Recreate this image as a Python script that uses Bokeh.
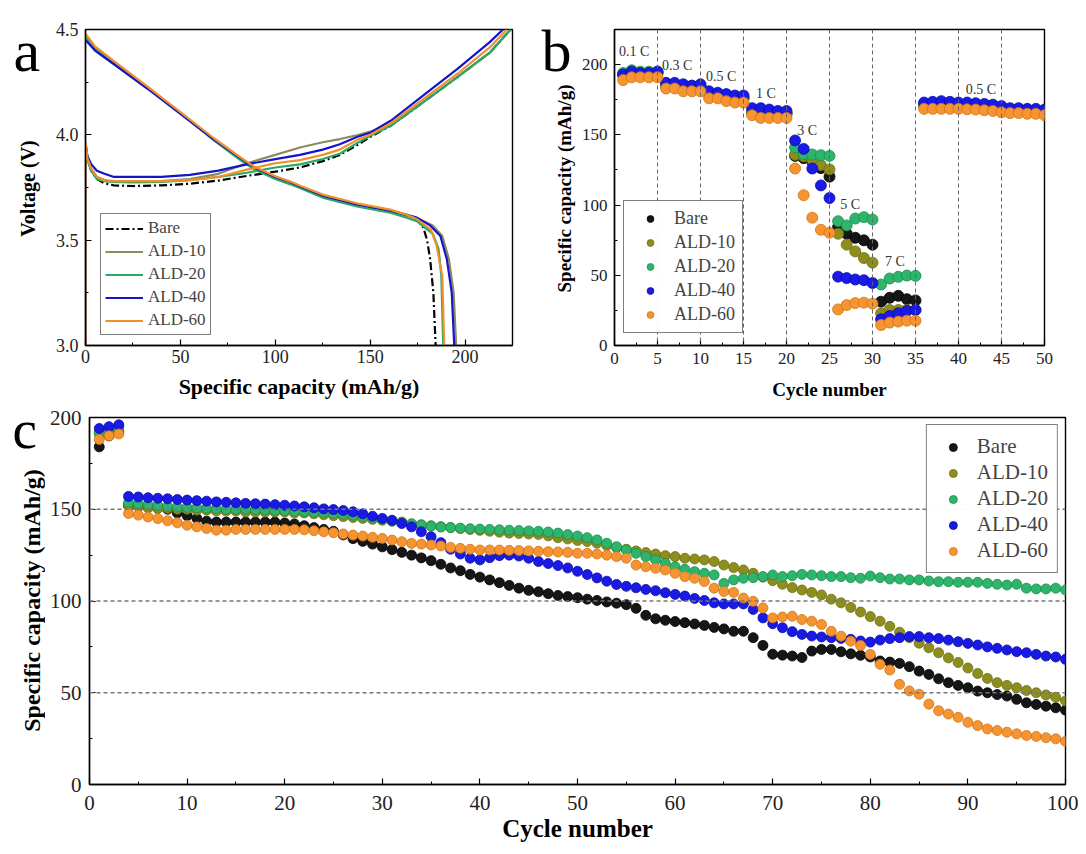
from bokeh.plotting import figure
from bokeh.layouts import column, row
from bokeh.models import (Range1d, FixedTicker, Span, Label, Legend, LegendItem,
                          NumeralTickFormatter)
from bokeh.embed import file_html
from bokeh.resources import INLINE

SERIF = "Liberation Serif"

# ---------------- Panel a : charge / discharge profiles ----------------
a_series = ["Bare", "ALD-10", "ALD-20", "ALD-40", "ALD-60"]

bare_chg_x = [0, 0, 1, 3, 6, 10, 15, 25, 40, 55, 70, 85, 100, 113, 125, 134, 143, 150, 161, 178, 196, 213, 224]
bare_chg_v = [3.00, 3.96, 3.89, 3.83, 3.79, 3.77, 3.76, 3.757, 3.76, 3.768, 3.783, 3.805, 3.825, 3.845, 3.875, 3.905, 3.95, 3.99, 4.044, 4.155, 4.274, 4.39, 4.50]
ald10_chg_x = [0, 0, 1, 3, 6, 10, 15, 25, 40, 55, 70, 85, 100, 113, 125, 134, 143, 150, 161, 178, 196, 213, 224]
ald10_chg_v = [3.00, 3.96, 3.89, 3.84, 3.80, 3.785, 3.776, 3.776, 3.78, 3.79, 3.815, 3.865, 3.905, 3.94, 3.965, 3.98, 3.998, 4.015, 4.05, 4.155, 4.275, 4.39, 4.50]
ald20_chg_x = [0, 0, 1, 3, 6, 10, 15, 25, 40, 55, 70, 85, 100, 113, 125, 134, 143, 150, 161, 178, 196, 213, 224]
ald20_chg_v = [3.00, 3.96, 3.88, 3.83, 3.79, 3.78, 3.776, 3.774, 3.776, 3.785, 3.80, 3.82, 3.845, 3.86, 3.885, 3.91, 3.96, 3.995, 4.044, 4.155, 4.274, 4.39, 4.50]
ald40_chg_x = [0, 0, 1, 3, 6, 10, 15, 25, 40, 55, 70, 85, 100, 113, 125, 134, 143, 150, 161, 178, 196, 213, 220]
ald40_chg_v = [3.00, 3.96, 3.90, 3.86, 3.83, 3.815, 3.80, 3.80, 3.80, 3.81, 3.83, 3.86, 3.885, 3.905, 3.93, 3.955, 3.99, 4.01, 4.068, 4.187, 4.313, 4.44, 4.50]
ald60_chg_x = [0, 0, 1, 3, 6, 10, 15, 25, 40, 55, 70, 85, 100, 113, 125, 134, 143, 150, 161, 178, 196, 213, 222]
ald60_chg_v = [3.00, 3.97, 3.89, 3.84, 3.80, 3.785, 3.78, 3.78, 3.78, 3.785, 3.80, 3.835, 3.865, 3.88, 3.905, 3.93, 3.975, 4.00, 4.055, 4.17, 4.29, 4.415, 4.50]

bare_dis_x = [0, 5, 15, 32.5, 50, 67.5, 81.6, 88.6, 100, 108, 113, 125.5, 143, 160.6, 169.3, 174.6, 178, 180, 181.6, 183.3, 184.5]
bare_dis_v = [4.47, 4.41, 4.345, 4.226, 4.104, 3.98, 3.89, 3.847, 3.80, 3.775, 3.755, 3.71, 3.67, 3.64, 3.617, 3.60, 3.56, 3.50, 3.41, 3.25, 3.00]
ald10_dis_x = [0, 5, 15, 32.5, 50, 67.5, 81.6, 88.6, 100, 108, 113, 125.5, 143, 160.6, 169.3, 174.6, 183, 188, 191.5, 194, 195.3]
ald10_dis_v = [4.47, 4.41, 4.345, 4.226, 4.104, 3.98, 3.89, 3.847, 3.80, 3.775, 3.755, 3.71, 3.67, 3.64, 3.62, 3.605, 3.57, 3.52, 3.41, 3.25, 3.00]
ald20_dis_x = [0, 5, 15, 32.5, 50, 67.5, 81.6, 88.6, 100, 108, 113, 125.5, 143, 160.6, 169.3, 174.6, 183, 186, 187.5, 188.5]
ald20_dis_v = [4.47, 4.41, 4.345, 4.226, 4.104, 3.975, 3.88, 3.837, 3.79, 3.765, 3.748, 3.70, 3.66, 3.63, 3.607, 3.59, 3.53, 3.46, 3.33, 3.00]
ald40_dis_x = [0, 5, 15, 32.5, 50, 67.5, 81.6, 88.6, 100, 108, 113, 125.5, 143, 160.6, 169.3, 174.6, 181.6, 187, 190.4, 193, 194.3]
ald40_dis_v = [4.45, 4.40, 4.335, 4.22, 4.10, 3.978, 3.89, 3.847, 3.80, 3.775, 3.755, 3.71, 3.67, 3.64, 3.62, 3.607, 3.57, 3.52, 3.41, 3.25, 3.00]
ald60_dis_x = [0, 5, 15, 32.5, 50, 67.5, 81.6, 88.6, 100, 108, 113, 125.5, 143, 160.6, 169.3, 174.6, 182, 185, 188, 189]
ald60_dis_v = [4.48, 4.42, 4.35, 4.23, 4.108, 3.985, 3.893, 3.85, 3.803, 3.778, 3.758, 3.715, 3.675, 3.645, 3.62, 3.60, 3.55, 3.475, 3.33, 3.00]

a_line_colors = ["#000000", "#8b8b60", "#2aa866", "#1414c8", "#f0902a"]
a_line_dash = ["8 3 2 3", "solid", "solid", "solid", "solid"]

# ---------------- Panel b : rate capability ----------------
b_cycles = list(range(1, 51))
b_bare = [193, 194, 194, 194, 194, 185, 185, 184, 184, 184, 179, 178, 177, 176, 176,
          166, 165, 165, 165, 165, 135, 133.4, 130.8, 126.3, 120.2, 84.3, 79.6, 76.7, 74.9, 71.8,
          31.2, 34, 35.4, 33, 32.1, 171, 171, 171, 171, 171, 170, 170, 170, 169, 168, 167, 167, 167, 166, 166]
b_ald10 = [193, 194, 194, 194, 194, 185, 185, 184, 184, 184, 179, 178, 177, 176, 176,
           166, 165, 165, 165, 165, 135.8, 134.6, 132, 128.5, 125.4, 79.6, 71.8, 67, 62.3, 59,
           22.9, 25.3, 25.3, 25.3, 25.3, 171, 171, 171, 171, 171, 170, 170, 170, 169, 168, 167, 167, 167, 166, 166]
b_ald20 = [194, 196, 195, 195, 195, 186, 186, 185, 185, 185, 180, 179, 178, 177, 177,
           167, 166, 166, 166, 166, 141, 136.2, 136, 135.5, 135, 88.5, 85.5, 90.4, 91.4, 89.7,
           43.4, 47.7, 48.9, 49.8, 49.6, 172, 172, 172, 172, 172, 171, 171, 171, 170, 169, 168, 168, 168, 167, 167]
b_ald40 = [193, 195, 194, 194, 195, 187, 187, 186, 185, 186, 181, 180, 179, 178, 178,
           169, 169, 168, 167, 167, 146, 140, 126, 114, 105, 49, 48, 47, 46.5, 44.5,
           18.7, 21, 23, 24.6, 25.3, 173, 173.5, 174, 173.5, 173, 173, 172.5, 172, 171.5, 170.5, 169, 169, 168.5, 168.5, 168]
b_ald60 = [189, 191, 191, 191, 191, 183, 183, 181, 181, 181, 176, 176, 174, 173, 173,
           164, 162, 162, 162, 162, 126, 107, 91, 82.4, 80.3, 25.7, 28.8, 30.2, 30.5, 29.8,
           14.6, 16.3, 17, 17.7, 17.7, 168.5, 168.5, 168.5, 168.5, 168.5, 168.2, 168, 167.5, 167, 166, 165.5, 165.5, 165, 165, 164]
b_rate_labels = ["0.1 C", "0.3 C", "0.5 C", "1 C", "3 C", "5 C", "7 C", "0.5 C"]
b_rate_x = [2.3, 7.3, 12.4, 17.6, 22.4, 27.4, 32.6, 42.6]
b_rate_y = [209, 199.5, 191.5, 179.7, 153, 100.6, 59.5, 182.5]
b_step_lines = [5, 10, 15, 20, 25, 30, 35, 40, 45]

# ---------------- Panel c : cycling ----------------
c_cycles = list(range(1, 101))
c_bare = [184, 190, 192, 152, 151.5, 151, 150.5, 150, 148, 146.5, 145, 143.5, 143, 143, 143, 143, 143, 143, 143, 142.5,
          142, 141, 140, 139, 138, 136, 134, 132.5, 131, 129.5, 128, 126.5, 125, 123.5, 122, 120, 118, 116.5, 114.5, 113,
          111.5, 110, 108.5, 107, 105.8, 105, 104, 103, 102.4, 101.8, 101, 100.3, 99.5, 98.8, 98, 96, 92.2, 90.3, 89.5, 88.8,
          88.2, 87.5, 86.7, 85.6, 84.8, 83.5, 83.5, 80, 75.8, 71, 70.5, 70, 69.2, 72.7, 73.6, 73.6, 72.3, 71.2, 70.4, 69.5,
          67.3, 66.7, 66, 64.2, 61.8, 60, 57.6, 55.5, 54, 52.7, 50.9, 50, 49, 48.2, 46.4, 44.5, 43.6, 42.7, 41.8, 40.5]
c_ald10 = [191, 193, 193, 152, 151.5, 151, 150.5, 150.5, 150, 150, 149.5, 149.5, 149, 149, 149, 148.5, 148.5, 148.5, 148.5, 148.5,
           148, 148, 147.5, 147, 146.5, 146, 145.5, 145, 144.5, 144, 143.5, 143, 142, 141.5, 141, 140.5, 140, 139.5, 139, 138.5,
           138, 137.5, 137, 136.8, 136.5, 136.3, 135.5, 134.5, 133.8, 133, 132.4, 131.5, 130.2, 129.1, 128.2, 127.3, 126.4, 125.6, 124.7, 124.2,
           123.3, 122.9, 122.4, 121.5, 119.6, 118.2, 116.9, 115.1, 113, 111.1, 109.1, 107.3, 106, 104.7, 103.3, 101, 99, 96.5, 94, 91.5,
           89, 86.2, 83, 80, 77, 74.5, 71.8, 69, 66.5, 63.5, 60.5, 57.8, 55.5, 54, 52.7, 51.2, 50, 48.8, 47.5, 45.5]
c_ald20 = [192, 194, 195, 153.5, 153, 152.5, 152, 151.5, 151.2, 151, 150.8, 150.5, 150.3, 150, 150, 150, 149.8, 149.6, 149.5, 149.3,
           149, 148.8, 148.5, 148.2, 147.8, 147.3, 146.7, 146, 145.2, 144.5, 143.6, 142.8, 142, 141.4, 140.8, 140.3, 140, 139.7, 139.4, 139.2,
           139, 138.8, 138.6, 138.4, 138.2, 138, 137.6, 137, 136.2, 135.4, 134.5, 133.3, 131.5, 129.6, 127.8, 126, 124.2, 122.4, 120.5, 118.7,
           117.3, 116, 115.1, 114.2, 109.6, 111.5, 112.4, 112.7, 113.3, 114.2, 113.3, 113.8, 114.5, 114.2, 113.8, 113.3, 113.3, 112.7, 112.4, 113.6,
           112.7, 112, 112, 111.5, 111.5, 110.9, 110.5, 110.5, 110.2, 110.2, 110.2, 109.6, 109.1, 108.7, 109.1, 107, 106.6, 106.6, 107, 106]
c_ald40 = [194, 195, 196, 157, 156.7, 156.3, 156, 155.7, 155.3, 155, 154.7, 154.4, 154, 153.8, 153.5, 153.2, 153, 152.8, 152.5, 152.2,
           151.8, 151.3, 150.8, 150.2, 149.8, 149.3, 148.6, 147.5, 146.2, 145, 144, 142.2, 140.4, 137.7, 135, 131.8, 128.2, 125.6, 123.3, 122.4,
           123.6, 124.7, 125, 124.5, 123.3, 121.5, 120.4, 119.3, 118, 116.2, 114.4, 112.6, 110.8, 109, 108, 107.2, 106.3, 105.6, 104.5, 103.6,
           102.7, 101.4, 100.3, 99, 98.4, 98.4, 98.4, 95.4, 90.8, 87.6, 85.4, 83.3, 81.8, 80.9, 80.4, 80, 79.6, 79.1, 78.2, 77.6,
           78.7, 79.5, 80, 80.6, 80.6, 80, 79.5, 78.7, 77.8, 76.9, 76, 75, 74.2, 73.3, 72.4, 71.8, 70.9, 70, 69.5, 68.2]
c_ald60 = [188, 190, 191, 147.7, 146.8, 145.8, 144.9, 143.7, 142.6, 141.3, 140.4, 139.5, 138.6, 138.6, 139, 139, 139, 139, 139, 139,
           139, 138.8, 138.3, 137.7, 137.2, 136.5, 135.9, 135.4, 134.7, 134.1, 133.2, 132.3, 131.4, 131, 130.5, 130, 129.2, 128.7, 128.2, 127.8,
           127.8, 127.8, 127.6, 127.5, 127.3, 127.1, 126.9, 126.7, 126.5, 126, 126, 125.6, 125, 124.2, 123.3, 119.6, 118.7, 117.8, 116.9, 115.1,
           113.3, 112.4, 110.6, 107, 105.2, 104.7, 101.6, 99.8, 96.2, 90.8, 91.3, 91.7, 89.9, 89, 87.2, 83.5, 80.8, 78.1, 75.8, 70.9,
           65.5, 62.4, 54.6, 51, 49.2, 43.8, 40.2, 38.4, 36.6, 33.9, 32.1, 30.3, 29.4, 28.5, 27.6, 26.7, 26.2, 25.5, 24.9, 23.5]
c_ref_levels = [50, 100, 150]

dot_fill = ["#161616", "#8e8e1e", "#2db56c", "#1a1ae6", "#f59430"]
dot_line = ["#000000", "#6e6e10", "#1a8c50", "#0c0ca8", "#d07418"]


def style(p, tick_px, label_px, xt, xm, yt, ym):
    p.xgrid.visible = False
    p.ygrid.visible = False
    p.outline_line_color = "black"
    p.outline_line_width = 1.4
    p.outline_line_alpha = 1.0
    p.background_fill_color = "white"
    p.border_fill_color = "white"
    p.xaxis.ticker = FixedTicker(ticks=xt, minor_ticks=xm)
    p.yaxis.ticker = FixedTicker(ticks=yt, minor_ticks=ym)
    for ax in p.xaxis + p.yaxis:
        ax.axis_line_width = 1.4
        ax.axis_line_color = "black"
        ax.major_tick_in = 6
        ax.major_tick_out = 0
        ax.minor_tick_in = 3
        ax.minor_tick_out = 0
        ax.major_tick_line_width = 1.2
        ax.minor_tick_line_width = 1.0
        ax.major_label_text_font = SERIF
        ax.major_label_text_font_size = tick_px
        ax.major_label_text_color = "#222222"
        ax.axis_label_text_font = SERIF
        ax.axis_label_text_font_style = "bold"
        ax.axis_label_text_font_size = label_px
        ax.axis_label_text_color = "black"


def gutter(width, height, letters, titles):
    g = figure(width=width, height=height, x_range=Range1d(0, 1), y_range=Range1d(0, 1),
               output_backend="svg", toolbar_location=None,
               min_border_left=0, min_border_right=0, min_border_top=0, min_border_bottom=0)
    if "frame_align" in g.properties():
        g.frame_align = False
    g.axis.visible = False
    g.xgrid.visible = False
    g.ygrid.visible = False
    g.outline_line_color = None
    g.background_fill_color = "white"
    g.border_fill_color = "white"
    for (txt, px, x, y) in letters:
        g.add_layout(Label(x=x, y=y, x_units="screen", y_units="screen", text=txt,
                           text_baseline="alphabetic", text_align="left",
                           text_font=SERIF, text_font_size=px, text_color="black"))
    for (txt, px, x, y) in titles:
        g.add_layout(Label(x=x, y=y, x_units="screen", y_units="screen", text=txt,
                           angle=90, angle_units="deg", text_align="center", text_baseline="middle",
                           text_font=SERIF, text_font_style="bold", text_font_size=px,
                           text_color="black"))
    return g


# ---------- left gutter (letters a, c and the y titles of a and c) ----------
gl = gutter(45, 846,
            [("a", "60px", 13, 796), ("c", "55px", 12, 417)],
            [("Voltage (V)", "20px", 27, 658), ("Specific capacity (mAh/g)", "24px", 31, 246)])

# ---------- figure a ----------
pa = figure(width=495, height=404, x_range=Range1d(0, 225), y_range=Range1d(3.0, 4.5),
            output_backend="svg", toolbar_location=None,
            min_border_left=40, min_border_right=28, min_border_top=29, min_border_bottom=59)
style(pa, "18px", "22px", [0, 50, 100, 150, 200], [25, 75, 125, 175, 225],
      [3.0, 3.5, 4.0, 4.5], [3.25, 3.75, 4.25])
pa.yaxis.formatter = NumeralTickFormatter(format="0.0")
pa.xaxis.axis_label = "Specific capacity (mAh/g)"
pa.xaxis.major_label_standoff = 4
pa.yaxis.major_label_standoff = 7
pa.xaxis.axis_label_standoff = 8

chg = [(bare_chg_x, bare_chg_v), (ald10_chg_x, ald10_chg_v), (ald20_chg_x, ald20_chg_v),
       (ald40_chg_x, ald40_chg_v), (ald60_chg_x, ald60_chg_v)]
dis = [(bare_dis_x, bare_dis_v), (ald10_dis_x, ald10_dis_v), (ald20_dis_x, ald20_dis_v),
       (ald40_dis_x, ald40_dis_v), (ald60_dis_x, ald60_dis_v)]
a_items = []
for i, name in enumerate(a_series):
    r1 = pa.line(chg[i][0], chg[i][1], line_color=a_line_colors[i], line_width=2.2,
                 line_dash=a_line_dash[i])
    r2 = pa.line(dis[i][0], dis[i][1], line_color=a_line_colors[i], line_width=2.2,
                 line_dash=a_line_dash[i])
    a_items.append(LegendItem(label=name, renderers=[r2]))
leg_a = Legend(items=a_items, location=(15, 10), glyph_width=38, glyph_height=17,
               label_height=17, spacing=3, padding=4, label_standoff=5, margin=0,
               label_text_font=SERIF, label_text_font_size="17px",
               border_line_color="black", border_line_width=1.3, background_fill_alpha=1.0)
pa.add_layout(leg_a)

# ---------- figure b ----------
gb = gutter(38, 404, [("b", "60px", 1, 354)], [("Specific capacity (mAh/g)", "19px", 24, 216)])
pb = figure(width=500, height=404, x_range=Range1d(0, 50), y_range=Range1d(0, 225),
            output_backend="svg", toolbar_location=None,
            min_border_left=36, min_border_right=34, min_border_top=28, min_border_bottom=59)
style(pb, "17px", "18px", list(range(0, 51, 5)), [2.5 + 5 * k for k in range(10)],
      [0, 50, 100, 150, 200], [25, 75, 125, 175, 225])
pb.xaxis.axis_label = "Cycle number"
pb.xaxis.axis_label_text_font_size = "19px"
pb.xaxis.major_label_standoff = 7
pb.yaxis.major_label_standoff = 7
pb.xaxis.axis_label_standoff = 12
for xv in b_step_lines:
    pb.add_layout(Span(location=xv, dimension="height", line_color="#666666",
                       line_dash="4 3", line_width=1))
b_vals = [b_bare, b_ald10, b_ald20, b_ald40, b_ald60]
b_items = []
for i, name in enumerate(a_series):
    r = pb.scatter(b_cycles, b_vals[i], size=11, marker="circle", fill_color=dot_fill[i],
                   line_color=dot_line[i], line_width=0.8)
    b_items.append(LegendItem(label=name, renderers=[r]))
for t, xv, yv in zip(b_rate_labels, b_rate_x, b_rate_y):
    pb.add_layout(Label(x=xv, y=yv, text=t, text_align="center", text_baseline="middle",
                        text_font=SERIF, text_font_size="14px", text_color="#333333"))
leg_b = Legend(items=b_items, location=(9, 12), glyph_width=38, glyph_height=17,
               label_height=17, spacing=3, padding=7, label_standoff=5, margin=0,
               label_text_font=SERIF, label_text_font_size="18px",
               border_line_color="black", border_line_width=1.3)
pb.add_layout(leg_b)

# ---------- figure c ----------
pc = figure(width=1033, height=442, x_range=Range1d(0, 100), y_range=Range1d(0, 200),
            output_backend="svg", toolbar_location=None,
            min_border_left=44, min_border_right=13, min_border_top=13, min_border_bottom=62)
style(pc, "21px", "24px", list(range(0, 101, 10)), list(range(5, 100, 10)),
      [0, 50, 100, 150, 200], [25, 75, 125, 175])
pc.xaxis.axis_label = "Cycle number"
pc.xaxis.axis_label_text_font_size = "25px"
pc.xaxis.major_label_standoff = 11
pc.yaxis.major_label_standoff = 8
pc.xaxis.axis_label_standoff = 2
for yv in c_ref_levels:
    pc.add_layout(Span(location=yv, dimension="width", line_color="#777777",
                       line_dash="4 3", line_width=1.6))
c_vals = [c_bare, c_ald10, c_ald20, c_ald40, c_ald60]
c_items = []
for i, name in enumerate(a_series):
    r = pc.scatter(c_cycles, c_vals[i], size=10, marker="circle", fill_color=dot_fill[i],
                   line_color=dot_line[i], line_width=0.8)
    c_items.append(LegendItem(label=name, renderers=[r]))
leg_c = Legend(items=c_items, location="top_right", glyph_width=34, glyph_height=20,
               label_height=20, spacing=1, padding=9, label_standoff=7, margin=7,
               label_text_font=SERIF, label_text_font_size="21px",
               border_line_color="black", border_line_width=1.3)
pc.add_layout(leg_c)

layout = row(gl, column(row(pa, gb, pb), pc))
open("out.html", "w").write(file_html(layout, INLINE))
